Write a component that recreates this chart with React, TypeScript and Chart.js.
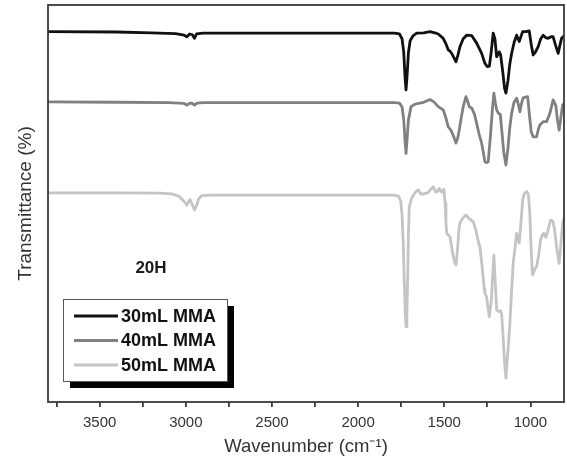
import React, { useEffect, useRef } from "react";
import { Chart, registerables } from "chart.js";

Chart.register(...registerables);

// ---- Data (wavenumber in cm-1, transmittance in arbitrary offset units) ----
const seriesLabels = ["30mL MMA", "40mL MMA", "50mL MMA"];
const seriesColors = ["#111111", "#808080", "#c4c4c4"];

const wn30 = [3800, 3400, 3200, 3060, 3010, 2994, 2978, 2962, 2950, 2938, 2900, 1790, 1760, 1745, 1735, 1728, 1722, 1716, 1708, 1698, 1680, 1660, 1620, 1583, 1555, 1535, 1506, 1490, 1477, 1465, 1457, 1445, 1432, 1420, 1409, 1390, 1370, 1341, 1312, 1283, 1264, 1250, 1238, 1228, 1216, 1206, 1196, 1188, 1181, 1173, 1160, 1150, 1142, 1130, 1120, 1109, 1095, 1080, 1065, 1045, 1025, 1007, 995, 984, 970, 955, 940, 926, 912, 897, 880, 868, 855, 839, 828, 819, 805];
const t30 = [93.3, 93.2, 93.0, 92.8, 92.4, 92.0, 92.7, 92.5, 91.6, 92.7, 92.9, 92.9, 92.7, 91.5, 88, 82, 78.6, 82, 88, 91.0, 92.3, 92.9, 93.0, 93.3, 93.0, 92.7, 91.6, 90.2, 88.7, 88.3, 87.8, 86.8, 85.7, 87.5, 89.5, 91.5, 92.4, 92.3, 90.4, 87.8, 85.3, 84.5, 84.6, 88, 92.9, 91.5, 87.0, 87.5, 88.2, 87.5, 83, 79, 77.8, 81, 85, 87.8, 90.5, 92.4, 90.8, 93.3, 93.3, 93.5, 90, 87.4, 88.2, 89.5, 91.5, 92.4, 91.8, 91.6, 92.0, 92.0, 90, 87.8, 90, 91.6, 92.2];

const wn40 = [3800, 3400, 3100, 3010, 2994, 2978, 2962, 2950, 2935, 2900, 1790, 1760, 1745, 1735, 1728, 1722, 1716, 1708, 1693, 1670, 1650, 1620, 1583, 1560, 1535, 1506, 1490, 1477, 1467, 1457, 1445, 1432, 1422, 1413, 1400, 1390, 1374, 1362, 1355, 1340, 1325, 1312, 1298, 1283, 1272, 1264, 1255, 1245, 1232, 1220, 1212, 1204, 1196, 1185, 1175, 1165, 1155, 1142, 1130, 1120, 1109, 1095, 1080, 1070, 1061, 1050, 1042, 1028, 1016, 1005, 995, 984, 964, 955, 945, 926, 906, 887, 868, 852, 843, 833, 822, 813, 805];
const t40 = [75.6, 75.5, 75.4, 75.2, 74.8, 75.3, 75.2, 74.8, 75.3, 75.4, 75.4, 75.3, 74.3, 71, 66, 62.6, 66, 71, 74.4, 75.0, 75.2, 75.5, 76.2, 75.6, 74.4, 73.6, 71.5, 69.3, 68.8, 68.1, 66.8, 65.2, 66.5, 68.5, 72, 74.4, 76.9, 75.5, 74.4, 74.0, 72.5, 70.2, 67.5, 65.2, 62.5, 60.5, 60.3, 60.5, 67, 74, 77.8, 75.5, 73.6, 72.7, 72.5, 68, 63, 59.7, 64, 69, 72.7, 75.5, 76.5, 75, 73.1, 75.5, 76.6, 76.8, 76.9, 72, 68, 66.8, 66.8, 68.5, 69.8, 70.6, 70.6, 72.7, 76.1, 74.6, 71, 68.5, 72, 74.8, 75.2];

const wn50 = [3800, 3400, 3150, 3080, 3040, 3010, 2994, 2982, 2975, 2965, 2950, 2938, 2925, 2907, 2850, 1790, 1765, 1752, 1745, 1738, 1732, 1726, 1722, 1717, 1712, 1708, 1703, 1690, 1679, 1665, 1650, 1640, 1625, 1610, 1595, 1580, 1564, 1550, 1540, 1529, 1518, 1510, 1502, 1495, 1490, 1486, 1475, 1467, 1455, 1447, 1440, 1432, 1422, 1415, 1409, 1395, 1382, 1374, 1362, 1350, 1331, 1315, 1300, 1293, 1280, 1268, 1264, 1255, 1245, 1239, 1228, 1220, 1212, 1205, 1196, 1185, 1175, 1167, 1158, 1150, 1142, 1132, 1120, 1115, 1108, 1100, 1090, 1080, 1072, 1065, 1055, 1045, 1035, 1022, 1012, 1004, 997, 990, 987, 975, 964, 952, 941, 930, 922, 910, 900, 883, 870, 860, 848, 833, 825, 813, 805];
const t50 = [52.7, 52.7, 52.6, 52.4, 51.8, 50.5, 49.6, 50.6, 51.0, 50.0, 48.4, 49.5, 51.2, 52.0, 52.1, 52.1, 51.8, 50.5, 47, 40, 30, 22, 19.0, 22, 32, 42, 49.2, 51.2, 52.1, 53.0, 53.4, 52.6, 52.3, 52.6, 52.7, 53.5, 54.2, 52.9, 53.0, 53.8, 53.0, 52.9, 53.6, 50, 45, 42.5, 42.0, 41.6, 38.5, 36.6, 35.3, 34.5, 39, 43.5, 45.0, 46.2, 46.8, 47.1, 46.5, 46.0, 45.4, 43, 40, 39.1, 34, 28.5, 27.4, 26.5, 23.5, 21.5, 25, 31, 37.0, 31, 23.2, 22.8, 23.0, 22.3, 16, 10, 6.0, 12, 19, 23.2, 29, 34.9, 38.5, 42.5, 41.5, 40.0, 45, 50.9, 52.5, 53.0, 52.4, 48, 40, 33.5, 32.0, 33.5, 34.1, 37, 40.8, 42.2, 42.5, 41.5, 43, 45.8, 45.6, 43.5, 39, 34.9, 39, 45.0, 46.3];

const xTickValues = [3750, 3500, 3250, 3000, 2750, 2500, 2250, 2000, 1750, 1500, 1250, 1000];
const xLabelledTicks = [3500, 3000, 2500, 2000, 1500, 1000];
const annotationText = "20H";

const FONT = "Arial, 'Liberation Sans', Helvetica, sans-serif";

const framePlugin = {
  id: "frameAndLegend",
  afterDraw(chart: any) {
    const { ctx, chartArea } = chart;
    const { left, top, right, bottom } = chartArea;
    ctx.save();
    // frame
    ctx.strokeStyle = "#3a3a3a";
    ctx.lineWidth = 1.8;
    ctx.strokeRect(left, top, right - left, bottom - top);

    // annotation
    ctx.fillStyle = "#1a1a1a";
    ctx.font = `bold 17px ${FONT}`;
    ctx.textAlign = "center";
    ctx.textBaseline = "middle";
    ctx.fillText(annotationText, 151, 268);

    // legend box with shadow
    const bx = 63, by = 299, bw = 164, bh = 82, sh = 7;
    ctx.fillStyle = "#000";
    ctx.fillRect(bx + sh, by + sh, bw, bh);
    ctx.fillStyle = "#fff";
    ctx.fillRect(bx, by, bw, bh);
    ctx.strokeStyle = "#555";
    ctx.lineWidth = 1;
    ctx.strokeRect(bx + 0.5, by + 0.5, bw, bh);

    const rows = [316, 340.5, 365];
    chart.data.datasets.forEach((ds: any, i: number) => {
      const y = rows[i];
      ctx.strokeStyle = ds.borderColor;
      ctx.lineWidth = 2.8;
      ctx.beginPath();
      ctx.moveTo(74, y);
      ctx.lineTo(118, y);
      ctx.stroke();
      ctx.fillStyle = "#111";
      ctx.font = `bold 18px ${FONT}`;
      ctx.textAlign = "left";
      ctx.textBaseline = "middle";
      ctx.fillText(ds.label, 121, y + 1);
    });
    ctx.restore();
  },
};

export default function App() {
  const canvasRef = useRef<HTMLCanvasElement | null>(null);

  useEffect(() => {
    document.body.style.margin = "0";
    const canvas = canvasRef.current;
    if (!canvas) return;

    const mk = (wn: number[], t: number[]) => wn.map((x, i) => ({ x, y: t[i] }));
    const seriesData = [mk(wn30, t30), mk(wn40, t40), mk(wn50, t50)];

    const chart = new Chart(canvas, {
      type: "line",
      data: {
        datasets: seriesData.map((d, i) => ({
          label: seriesLabels[i],
          data: d,
          borderColor: seriesColors[i],
          backgroundColor: seriesColors[i],
          borderWidth: 2.8,
          borderJoinStyle: "round",
          borderCapStyle: "round",
          pointRadius: 0,
          tension: 0,
          fill: false,
        })),
      },
      options: {
        responsive: false,
        animation: false,
        events: [],
        layout: { padding: { top: 5, right: 3, left: 0, bottom: 0 } },
        plugins: {
          legend: { display: false },
          tooltip: { enabled: false },
        },
        scales: {
          x: {
            type: "linear",
            reverse: true,
            min: 805,
            max: 3800,
            afterBuildTicks: (scale: any) => {
              scale.ticks = xTickValues.map((v) => ({ value: v }));
            },
            afterFit: (scale: any) => {
              scale.height = 65;
            },
            ticks: {
              autoSkip: false,
              maxRotation: 0,
              padding: 7,
              color: "#333",
              font: { family: FONT, size: 15 },
              callback: (v: any) => (xLabelledTicks.includes(Number(v)) ? String(v) : ""),
            },
            grid: {
              display: true,
              drawOnChartArea: false,
              drawTicks: true,
              tickLength: 5,
              color: "#3a3a3a",
              lineWidth: 1.8,
            },
            border: { display: false },
            title: {
              display: true,
              text: "Wavenumber (cm\u207B\u00B9)",
              color: "#333",
              font: { family: FONT, size: 18.5 },
              padding: { top: 0, bottom: 9 },
            },
          },
          y: {
            min: 0,
            max: 100,
            afterFit: (scale: any) => {
              scale.width = 48;
            },
            ticks: { display: false },
            grid: { display: false, drawTicks: false },
            border: { display: false },
            title: {
              display: true,
              text: "Transmittance (%)",
              color: "#333",
              font: { family: FONT, size: 19 },
              padding: { top: 14, bottom: 0 },
            },
          },
        },
      },
      plugins: [framePlugin],
    });

    return () => chart.destroy();
  }, []);

  return <canvas ref={canvasRef} width={567} height={467} style={{ display: "block" }} />;
}
